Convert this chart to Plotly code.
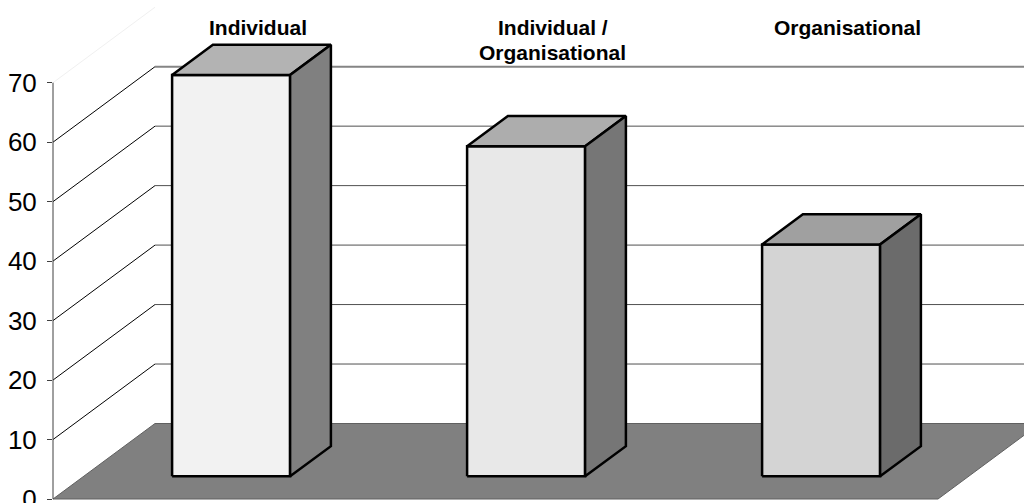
import plotly.graph_objects as go

# ---------------- data ----------------
categories = ["Individual", "Individual /<br>Organisational", "Organisational"]
values = [67.5, 55.5, 39.0]
y_ticks = [0, 10, 20, 30, 40, 50, 60, 70]

front_colors = ["#f2f2f2", "#e8e8e8", "#d4d4d4"]
top_colors = ["#b3b3b3", "#adadad", "#a0a0a0"]
side_colors = ["#808080", "#767676", "#6b6b6b"]

# ---------------- geometry (pixel calibration) ----------------
W, H = 1024, 503
ML = 53            # left margin (front value axis position)
PPX = 295.0        # pixels per category
PPY = 5.947        # pixels per value unit
Y0_PX = 499.0      # pixel row of value 0 at floor front
X0_PX = 200.5      # pixel column of category 0 centre at floor front
DEPTH_PX = (102.0, 75.5)   # oblique depth of the floor (px)
BAR_W = 0.4        # bar width in category units
D_FRONT, D_BACK = 0.30, 0.70   # bar depth fraction range
LABEL_D = 0.56
LABEL_TOP_PX = 14
LABEL_LINE_PX = 24.5

ddx = DEPTH_PX[0] / PPX
ddy = DEPTH_PX[1] / PPY
xr = [(ML - X0_PX) / PPX, (W - X0_PX) / PPX]
yr = [-(H - Y0_PX) / PPY, Y0_PX / PPY]
n = len(categories)

fig = go.Figure()
shapes = []

# floor
fx = [-0.5, n - 0.5, n - 0.5 + ddx, -0.5 + ddx]
fy = [0, 0, ddy, ddy]
shapes.append(dict(type="path", xref="x", yref="y", layer="below",
                   path="M " + " L ".join(f"{a},{b}" for a, b in zip(fx, fy)) + " Z",
                   fillcolor="#808080", line=dict(color="#606060", width=1)))

# back-wall gridlines and left-wall diagonals
for v in y_ticks[1:]:
    if v == y_ticks[-1]:
        # faint top diagonal
        shapes.append(dict(type="line", xref="x", yref="y", layer="below",
                           x0=-0.5, y0=v, x1=-0.5 + ddx, y1=v + ddy,
                           line=dict(color="#f0f0f0", width=1)))
        continue
    top = (v == y_ticks[-2])
    shapes.append(dict(type="line", xref="x", yref="y", layer="below",
                       x0=-0.5 + ddx, y0=v + ddy, x1=xr[1] + 1, y1=v + ddy,
                       line=dict(color="#858585" if top else "#505050",
                                 width=2 if top else 1)))
    shapes.append(dict(type="line", xref="x", yref="y", layer="below",
                       x0=-0.5, y0=v, x1=-0.5 + ddx, y1=v + ddy,
                       line=dict(color="#000000", width=1)))

# front value axis line (0..70)
shapes.append(dict(type="line", xref="paper", yref="y", layer="above",
                   x0=0, x1=0, y0=y_ticks[0], y1=y_ticks[-1],
                   line=dict(color="#404040", width=1)))

# bars (front, top, side faces)
for i, v in enumerate(values):
    fxl = i + D_FRONT * ddx - BAR_W / 2
    fxr = i + D_FRONT * ddx + BAR_W / 2
    fyb = D_FRONT * ddy
    fyt = D_FRONT * ddy + v
    ox = (D_BACK - D_FRONT) * ddx
    oy = (D_BACK - D_FRONT) * ddy
    faces = [
        ([fxl, fxr, fxr, fxl, fxl], [fyb, fyb, fyt, fyt, fyb], front_colors[i]),
        ([fxl, fxr, fxr + ox, fxl + ox, fxl], [fyt, fyt, fyt + oy, fyt + oy, fyt], top_colors[i]),
        ([fxr, fxr + ox, fxr + ox, fxr, fxr], [fyb, fyb + oy, fyt + oy, fyt, fyb], side_colors[i]),
    ]
    for xs, ys, col in faces:
        fig.add_trace(go.Scatter(x=xs, y=ys, mode="lines", fill="toself",
                                 fillcolor=col, line=dict(color="#000000", width=2.5),
                                 hoverinfo="skip", showlegend=False))

# category labels at top (one annotation per text line)
annotations = []
for i, c in enumerate(categories):
    for k, line in enumerate(c.split("<br>")):
        annotations.append(dict(x=i + LABEL_D * ddx, xref="x",
                                y=1 - (LABEL_TOP_PX + k * LABEL_LINE_PX) / H, yref="paper",
                                yanchor="top", xanchor="center", showarrow=False,
                                text=f"<b>{line}</b>",
                                font=dict(family="Arial, Liberation Sans, sans-serif",
                                          size=21, color="#000000")))

fig.update_layout(
    width=W, height=H,
    margin=dict(l=ML, r=0, t=0, b=0, autoexpand=False),
    paper_bgcolor="white", plot_bgcolor="white",
    shapes=shapes, annotations=annotations,
    xaxis=dict(range=xr, visible=False, fixedrange=True),
    yaxis=dict(range=yr, tickmode="array", tickvals=y_ticks,
               ticktext=[str(t) for t in y_ticks],
               ticks="outside", ticklen=5, tickcolor="#404040", tickwidth=1,
               ticklabelstandoff=5, ticklabeloverflow="allow",
               showgrid=False, zeroline=False, showline=False,
               tickfont=dict(family="Arial, Liberation Sans, sans-serif",
                             size=26, color="#000000"),
               automargin=False, fixedrange=True),
)

fig.write_html("out.html")
